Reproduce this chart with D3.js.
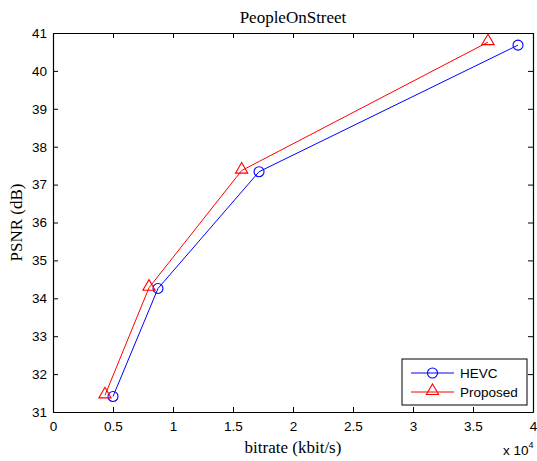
<!DOCTYPE html>
<html>
<head>
<meta charset="utf-8">
<script src="https://cdn.jsdelivr.net/npm/d3@7"></script>
<style>
  body { margin: 0; background: #fff; }
  svg { display: block; }
</style>
</head>
<body>
<div id="chart"></div>
<script>

// data
var bitrate_hevc     = [ 5000, 8750, 17170, 38750 ];
var psnr_hevc        = [ 31.41, 34.26, 37.34, 40.68 ];
var bitrate_proposed = [ 4330, 8000, 15720, 36250 ];
var psnr_proposed    = [ 31.44, 34.28, 37.37, 40.76 ];

var x_ticks = [ 0, 0.5, 1, 1.5, 2, 2.5, 3, 3.5, 4 ];
var y_ticks = [ 31, 32, 33, 34, 35, 36, 37, 38, 39, 40, 41 ];

// --------------------------------------------------------

var chart_width  = 537;
var chart_height = 461;
var m = { left: 53, right: 4, top: 33, bottom: 49 };

var svg = d3.select("#chart")
	.append("svg")
	.attr("width", chart_width)
	.attr("height", chart_height);

// --------------------------------------------------------

const x_scale = d3.scaleLinear()
	.domain([0, 4e4])
	.range([m.left, chart_width - m.right]);

const y_scale = d3.scaleLinear()
	.domain([31, 41])
	.range([chart_height - m.bottom, m.top]);

var tick_font = "Liberation Sans, Arial, sans-serif";
var label_font = "Liberation Serif, Times New Roman, serif";

// --------------------------------------------------------
// axes (ticks point inward, like matlab)

var x_axis = d3.axisBottom(x_scale)
	.tickValues(x_ticks.map(d => d * 1e4))
	.tickFormat(d => d3.format("")(d / 1e4))
	.tickSizeInner(-5).tickSizeOuter(0).tickPadding(9);

var y_axis = d3.axisLeft(y_scale)
	.tickValues(y_ticks)
	.tickSizeInner(-5).tickSizeOuter(0).tickPadding(6);

svg.append("g")
	.attr("transform", "translate(0," + (chart_height - m.bottom) + ")")
	.call(x_axis);

svg.append("g")
	.attr("transform", "translate(" + m.left + ",0)")
	.call(y_axis);

// top and right copies without labels
svg.append("g")
	.attr("transform", "translate(0," + m.top + ")")
	.call(d3.axisTop(x_scale).tickValues(x_ticks.map(d => d * 1e4)).tickFormat("").tickSizeInner(-5).tickSizeOuter(0));

svg.append("g")
	.attr("transform", "translate(" + (chart_width - m.right) + ",0)")
	.call(d3.axisRight(y_scale).tickValues(y_ticks).tickFormat("").tickSizeInner(-5).tickSizeOuter(0));

svg.selectAll(".domain").attr("stroke", "#000").attr("stroke-width", 1.2);
svg.selectAll(".tick line").attr("stroke", "#000");
svg.selectAll(".tick text")
	.attr("font-family", tick_font)
	.attr("font-size", 13.5)
	.attr("fill", "#000");

// --------------------------------------------------------
// labels

svg.append("text")
	.attr("x", (m.left + chart_width - m.right) / 2)
	.attr("y", 23)
	.attr("text-anchor", "middle")
	.attr("font-family", label_font)
	.attr("font-size", 17)
	.text("PeopleOnStreet");

svg.append("text")
	.attr("x", (m.left + chart_width - m.right) / 2)
	.attr("y", 453)
	.attr("text-anchor", "middle")
	.attr("font-family", label_font)
	.attr("font-size", 17)
	.text("bitrate (kbit/s)");

svg.append("text")
	.attr("transform", "translate(22," + ((m.top + chart_height - m.bottom) / 2) + ") rotate(-90)")
	.attr("text-anchor", "middle")
	.attr("font-family", label_font)
	.attr("font-size", 17)
	.text("PSNR (dB)");

var exp = svg.append("text")
	.attr("x", 503)
	.attr("y", 455)
	.attr("font-family", tick_font)
	.attr("font-size", 13.5);
exp.append("tspan").text("x 10");
exp.append("tspan").attr("dy", -7).attr("font-size", 9).text("4");

// --------------------------------------------------------
// series

var series = [
	{ name: "HEVC", x: bitrate_hevc, y: psnr_hevc, color: "#0000ff", marker: "circle" },
	{ name: "Proposed", x: bitrate_proposed, y: psnr_proposed, color: "#ff0000", marker: "triangle" }
];

var line = d3.line()
	.x(d => x_scale(d[0]))
	.y(d => y_scale(d[1]));

var tri = d3.symbol().type(d3.symbolTriangle).size(65);

function draw_marker(g, type, color) {
	if (type === "circle") {
		g.append("circle").attr("r", 5)
			.attr("fill", "none").attr("stroke", color).attr("stroke-width", 1.1);
	} else {
		g.append("path").attr("d", tri).attr("transform", "translate(0,-1)")
			.attr("fill", "none").attr("stroke", color).attr("stroke-width", 1.1);
	}
}

series.forEach(s => {
	var pts = s.x.map((v, i) => [v, s.y[i]]);
	svg.append("path")
		.datum(pts)
		.attr("d", line)
		.attr("fill", "none")
		.attr("stroke", s.color)
		.attr("stroke-width", 1);

	svg.selectAll(null)
		.data(pts)
		.enter()
		.append("g")
		.attr("transform", d => "translate(" + x_scale(d[0]) + "," + y_scale(d[1]) + ")")
		.each(function () { draw_marker(d3.select(this), s.marker, s.color); });
});

// --------------------------------------------------------
// legend

var lg = svg.append("g").attr("transform", "translate(402,359)");
lg.append("rect")
	.attr("width", 125).attr("height", 46)
	.attr("fill", "#fff").attr("stroke", "#000").attr("stroke-width", 1);

series.forEach((s, i) => {
	var yy = 14 + i * 19;
	lg.append("line")
		.attr("x1", 9).attr("x2", 52).attr("y1", yy).attr("y2", yy)
		.attr("stroke", s.color);
	draw_marker(lg.append("g").attr("transform", "translate(30.5," + yy + ")"), s.marker, s.color);
	lg.append("text")
		.attr("x", 58).attr("y", yy + 5)
		.attr("font-family", tick_font)
		.attr("font-size", 13.5)
		.text(s.name);
});

</script>
</body>
</html>
